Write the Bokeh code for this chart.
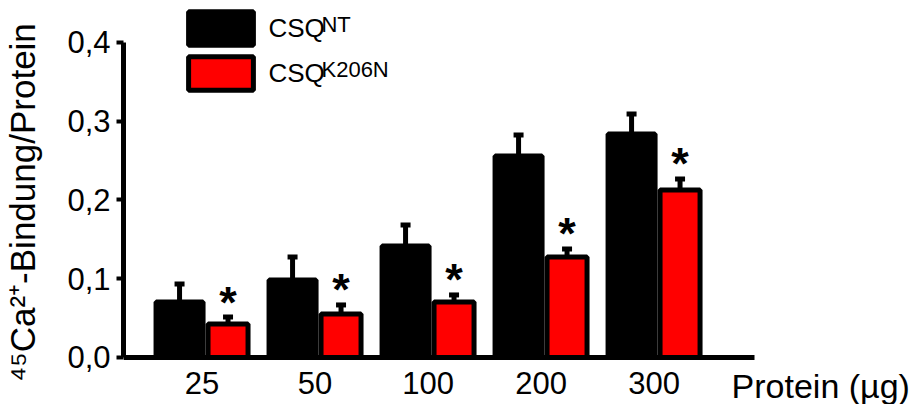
from bokeh.plotting import figure
from bokeh.models import ColumnDataSource, FixedTicker, Whisker, TeeHead, Legend, LegendItem, Label
from bokeh.core.properties import value
from bokeh.embed import file_html
from bokeh.resources import INLINE

# ---- data ----
doses = ["25", "50", "100", "200", "300"]
nt_mean = [0.0705, 0.0984, 0.1416, 0.2559, 0.2838]
nt_err = [0.0228, 0.0292, 0.0267, 0.0266, 0.0254]
k_mean = [0.0425, 0.0552, 0.0705, 0.1276, 0.2127]
k_err = [0.0089, 0.0115, 0.0089, 0.0102, 0.0140]
sig = ["*", "*", "*", "*", "*"]
y_ticks = [0.0, 0.1, 0.2, 0.3, 0.4]
y_tick_labels = ["0,0", "0,1", "0,2", "0,3", "0,4"]
series_base = ["CSQ", "CSQ"]
series_sup = ["NT", "K206N"]
y_title = "\u2074\u2075Ca\u00b2\u207a-Bindung/Protein"
x_title = "Protein (\u00b5g)"

FONT = "Liberation Sans"

X0, X1 = -0.695, 4.889      # extent of the x axis
idx = list(range(len(doses)))
nt_x = [i - 0.199 for i in idx]
k_x = [i + 0.230 for i in idx]

src_nt = ColumnDataSource(dict(x=nt_x, top=nt_mean,
                               hi=[m + e for m, e in zip(nt_mean, nt_err)]))
src_k = ColumnDataSource(dict(x=k_x, top=k_mean,
                              hi=[m + e for m, e in zip(k_mean, k_err)],
                              s=sig))

p = figure(x_range=(X0, 6.287), y_range=(-0.0597, 0.4533),
           frame_width=789, frame_height=404,
           min_border_left=116, min_border_right=0,
           min_border_top=0, min_border_bottom=0,
           output_backend="svg", toolbar_location=None)
p.outline_line_color = None
p.xgrid.visible = False
p.ygrid.visible = False
p.background_fill_color = "white"

r_nt = p.vbar(x="x", top="top", bottom=0, width=0.416, source=src_nt,
              fill_color="black", line_color="black", line_width=5)
r_k = p.vbar(x="x", top="top", bottom=0, width=0.354, source=src_k,
             fill_color="#ff0000", line_color="black", line_width=5)

for src in (src_nt, src_k):
    w = Whisker(source=src, base="x", lower="top", upper="hi", dimension="height",
                line_color="black", line_width=5,
                upper_head=TeeHead(size=10, line_color="black", line_width=5),
                lower_head=None)
    p.add_layout(w)

p.text(x="x", y="hi", text="s", source=src_k, text_font=value(FONT),
       text_font_size="45px", text_font_style="bold", text_align="center",
       text_baseline="alphabetic", y_offset=-15, text_color="black")

# axes
p.yaxis.bounds = (0, 0.4)
p.yaxis.ticker = FixedTicker(ticks=y_ticks)
p.yaxis.major_label_overrides = dict(zip(y_ticks, y_tick_labels))
p.yaxis.axis_line_width = 5
p.yaxis.major_tick_line_width = 4
p.yaxis.major_tick_out = 7
p.yaxis.major_tick_in = 0
p.yaxis.minor_tick_line_color = None
p.yaxis.major_label_text_font = FONT
p.yaxis.major_label_text_font_size = "31px"
p.yaxis.major_label_text_color = "black"
p.yaxis.major_label_standoff = 6
p.yaxis.axis_label = y_title
p.yaxis.axis_label_text_font = FONT
p.yaxis.axis_label_text_font_size = "35px"
p.yaxis.axis_label_text_font_style = "normal"
p.yaxis.axis_label_text_color = "black"
p.yaxis.axis_label_standoff = 22

p.xaxis.fixed_location = 0
p.xaxis.bounds = (X0, X1)
p.xaxis.ticker = FixedTicker(ticks=idx)
p.xaxis.major_label_overrides = dict(zip(idx, doses))
p.xaxis.axis_line_width = 5
p.xaxis.major_tick_line_color = None
p.xaxis.minor_tick_line_color = None
p.xaxis.major_label_text_font = FONT
p.xaxis.major_label_text_font_size = "31px"
p.xaxis.major_label_text_color = "black"
p.xaxis.major_label_standoff = 9

p.add_layout(Label(x=4.686, y=-0.0368, text=x_title, text_font=FONT,
                   text_font_size="34px", text_color="black",
                   text_baseline="alphabetic", text_align="left"))

legend = Legend(items=[LegendItem(label=series_base[0], renderers=[r_nt]),
                       LegendItem(label=series_base[1], renderers=[r_k])],
                location=(57.4, 309.75), glyph_width=81, glyph_height=42,
                label_height=42, spacing=3, padding=0, margin=0,
                label_standoff=7, label_text_font=FONT,
                label_text_font_size="26px", label_text_color="black",
                border_line_color=None, background_fill_alpha=0)
p.add_layout(legend)

# superscripts of the legend labels
p.add_layout(Label(x=1.057, y=0.4229, text=series_sup[0], text_font=FONT,
                   text_font_size="22px", text_color="black",
                   text_baseline="alphabetic"))
p.add_layout(Label(x=1.057, y=0.3657, text=series_sup[1], text_font=FONT,
                   text_font_size="22px", text_color="black",
                   text_baseline="alphabetic"))

open("out.html", "w").write(file_html(p, INLINE))
